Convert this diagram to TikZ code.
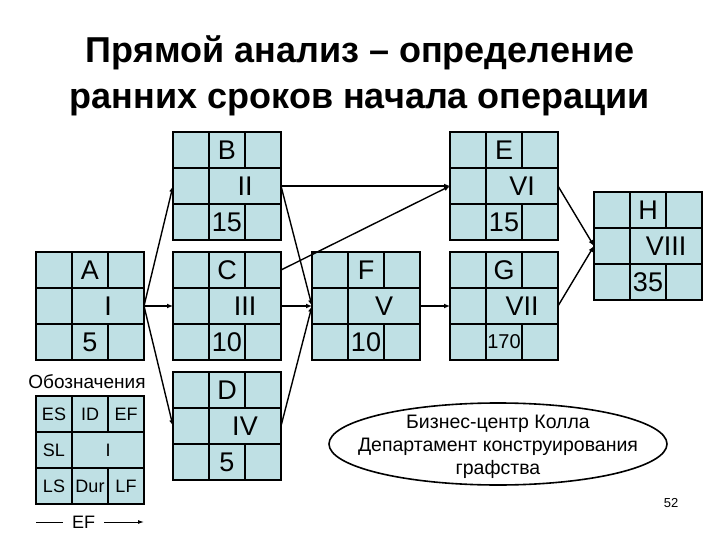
\documentclass[tikz,border=0pt]{standalone}
\usepackage{fontspec}
\setmainfont{Liberation Sans}
\usepackage{tikz}
\usetikzlibrary{arrows.meta,calc}
\definecolor{CellFill}{HTML}{BFE0E4}
\newcommand{\OpBox}[5]{%
  \begin{scope}[shift={(#2)}]
    \node[opbox] (#1) at (0,0) {};
    \draw[grid] (-54,-18) -- (54,-18) (-54,18) -- (54,18)
                (-18,-54) -- (-18,54) (18,-54) -- (18,-18) (18,18) -- (18,54);
    \node[cell] (#1-id)  at (0,-36) {#3};
    \node[cell] (#1-num) at (18,0)  {#4};
    \node[cell] (#1-dur) at (0,36)  {#5};
  \end{scope}}

\begin{document}
\begin{tikzpicture}[
  x=1pt, y=-1pt,
  opbox/.style={draw,line width=1.6pt,fill=CellFill,minimum width=108pt,
                minimum height=108pt,inner sep=0pt,outer sep=0pt},
  grid/.style={line width=1.6pt},
  cell/.style={font=\fontsize{27}{27}\selectfont,inner sep=0pt},
  key/.style={font=\fontsize{18}{18}\selectfont,inner sep=0pt},
  arr/.style={-{Latex[length=6pt,width=5pt]},line width=1.4pt},
  title/.style={font=\fontsize{36}{46}\selectfont\bfseries,align=center}]

\useasboundingbox (0,0) rectangle (720,540);

\node[title] (head) at (360,76) {Прямой анализ – определение\\ранних сроков начала операции};

\OpBox{A}{90,306}{A}{I}{5}
\OpBox{B}{227,186}{B}{II}{15}
\OpBox{C}{227,306}{C}{III}{10}
\OpBox{D}{227,426}{D}{IV}{5}
\OpBox{F}{366,306}{F}{V}{10}
\OpBox{E}{504,186}{E}{VI}{15}
\OpBox{G}{504,306}{G}{VII}{\fontsize{20}{20}\selectfont 170}
\OpBox{H}{648,246}{H}{VIII}{35}

\draw[arr] (A.east) -- (B.west);
\draw[arr] (A.east) -- (C.west);
\draw[arr] (A.east) -- (D.west);
\draw[arr] (B.east) -- (E.west);
\draw[arr] (B.east) -- (F.west);
\draw[arr] (C.east |- C-id) -- (E.west);
\draw[arr] (C.east) -- (F.west);
\draw[arr] (D.east) -- (F.west);
\draw[arr] (F.east) -- (G.west);
\draw[arr] (E.east) -- (H.west);
\draw[arr] (G.east) -- (H.west);

% legend
\node[font=\fontsize{19}{19}\selectfont] (keyhead) at (87,382) {Обозначения};
\begin{scope}[shift={(90,450)}]
  \node[opbox] (L) at (0,0) {};
  \draw[grid] (-54,-18) -- (54,-18) (-54,18) -- (54,18)
              (-18,-54) -- (-18,54) (18,-54) -- (18,-18) (18,18) -- (18,54);
  \node[key] (L-es)  at (-36,-36) {ES};
  \node[key] (L-id)  at (0,-36)   {ID};
  \node[key] (L-ef)  at (36,-36)  {EF};
  \node[key] (L-sl)  at (-36,0)   {SL};
  \node[key] (L-i)   at (18,0)    {I};
  \node[key] (L-ls)  at (-36,36)  {LS};
  \node[key] (L-dur) at (0,36)    {Dur};
  \node[key] (L-lf)  at (36,36)   {LF};
\end{scope}
\coordinate (efL) at (36,522);
\coordinate (efR) at (144,522);
\draw[-{Latex[length=6pt,width=4pt]},line width=1pt] (efL) --
  node[pos=0.44,fill=white,inner xsep=9pt,inner ysep=1pt,font=\fontsize{18}{18}\selectfont] (efTxt) {EF} (efR);

\coordinate (firmC) at (498,444);
\node[align=center,inner sep=0pt,font=\fontsize{19.5}{23}\selectfont] (firm) at (498,447)
  {Бизнес-центр Колла\\Департамент конструирования\\графства};
\draw[line width=1.6pt] (firmC) ellipse [x radius=169, y radius=41];

\node[font=\fontsize{13}{13}\selectfont] (page) at (671,503) {52};
\end{tikzpicture}
\end{document}
